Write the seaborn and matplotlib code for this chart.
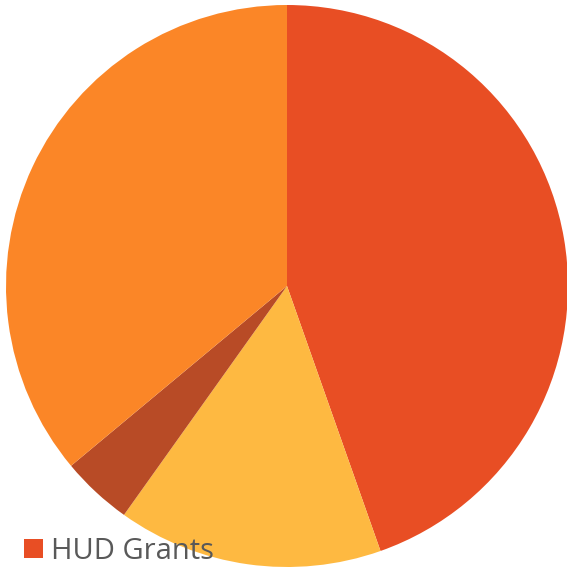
import matplotlib.pyplot as plt
import seaborn as sns

# Slice shares (clockwise from top)
labels = ["HUD Grants", "Other 1", "Other 2", "Other 3"]
shares = [44.6, 15.25, 4.1, 36.05]
colors = ["#E84E24", "#FEB941", "#B84B26", "#FB8627"]

sns.set_theme(style="white")
plt.rcParams["font.family"] = ["Open Sans", "DejaVu Sans"]

fig = plt.figure(figsize=(5.67, 5.67), dpi=100)
ax = fig.add_axes([0, 0, 1, 1])

wedges, _ = ax.pie(shares, colors=colors, startangle=90, counterclock=False,
                   radius=1.0, wedgeprops=dict(linewidth=0))

# center around (287, 286) px with radius ~281 px
r = 281.0
ax.set_xlim(-287 / r, (567 - 287) / r)
ax.set_ylim(-(567 - 286) / r, 286 / r)
ax.set_aspect("auto")
ax.axis("off")

leg = fig.legend([wedges[0]], [labels[0]], loc="lower left",
                 bbox_to_anchor=(4 / 567, -19 / 567), frameon=False,
                 fontsize=21, handlelength=0.62, handleheight=0.62,
                 handletextpad=0.28, borderpad=0.2)
for t in leg.get_texts():
    t.set_color("#595959")

fig.savefig("out.png", dpi=100)
